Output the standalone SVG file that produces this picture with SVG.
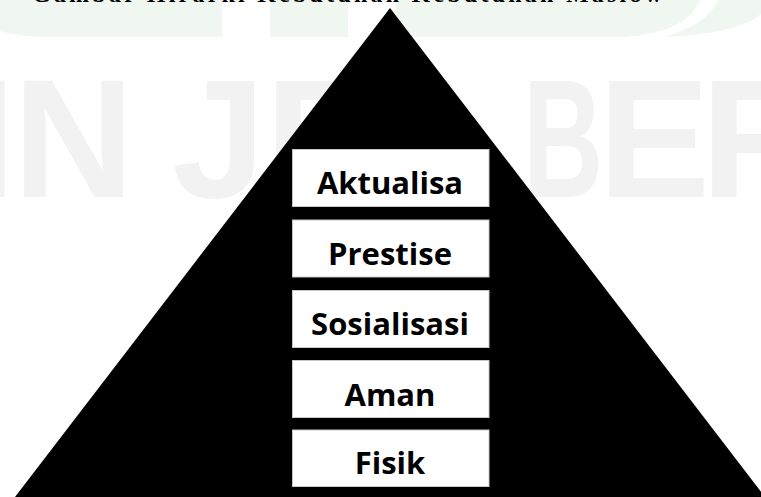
<svg xmlns="http://www.w3.org/2000/svg" width="761" height="497" viewBox="0 0 761 497">
  <style>
    .wm { fill: #f0f7f0; }
    .wmt { fill: #f2f2f2; font-family: "Liberation Sans", Arial, sans-serif; font-weight: bold; font-size: 168px; }
    .title { fill: #000; font-family: "Liberation Serif", "Times New Roman", serif; font-weight: bold; font-size: 24px; }
    .box { fill: #ffffff; stroke: #c8c8c8; stroke-width: 1; }
    .lbl { fill: #000; font-family: "Open Sans", "Liberation Sans", sans-serif; font-weight: bold; font-size: 31px; text-anchor: middle; }
  </style>
  <rect width="761" height="497" fill="#ffffff"/>
  <g id="watermark">
    <path class="wm" d="M0,0 L222,0 L222,37 L45,37 Q12,35 0,31 Z"/>
    <rect class="wm" x="270" y="0" width="78" height="37"/>
    <path class="wm" d="M396,0 L700,0 Q688,32 625,37 L396,37 Z"/>
    <path class="wm" d="M718,0 L761,0 L761,14 Q738,34 664,37 Q708,24 718,0 Z"/>
    <text class="wmt" y="197"><tspan x="-31">I</tspan><tspan x="13">N</tspan><tspan x="172">J</tspan><tspan x="265">E</tspan><tspan x="312">M</tspan></text>
    <text class="wmt" transform="translate(531 197) scale(0.66 1)" x="-12">B</text>
    <text class="wmt" y="197"><tspan x="598">E</tspan><tspan x="701">R</tspan></text>
  </g>
  <text id="title" class="title" x="32" y="2" textLength="630" lengthAdjust="spacing">Gambar Hirarki Kebutuhan Kebutuhan Maslow</text>
  <g id="pyramid">
    <polygon points="390,8 15,497 765,497" fill="#000000"/>
  </g>
  <g id="connectors"></g>
  <g id="node-aktualisa">
    <rect class="box" x="292.5" y="149.5" width="196.5" height="57"/>
    <text class="lbl" x="390" y="194">Aktualisa</text>
  </g>
  <g id="node-prestise">
    <rect class="box" x="292.5" y="220" width="196.5" height="57"/>
    <text class="lbl" x="390" y="265">Prestise</text>
  </g>
  <g id="node-sosialisasi">
    <rect class="box" x="292.5" y="290.5" width="196.5" height="57"/>
    <text class="lbl" x="390" y="335">Sosialisasi</text>
  </g>
  <g id="node-aman">
    <rect class="box" x="292.5" y="360.5" width="196.5" height="57"/>
    <text class="lbl" x="390" y="406">Aman</text>
  </g>
  <g id="node-fisik">
    <rect class="box" x="292.5" y="430" width="196.5" height="56.5"/>
    <text class="lbl" x="390" y="474">Fisik</text>
  </g>
</svg>
